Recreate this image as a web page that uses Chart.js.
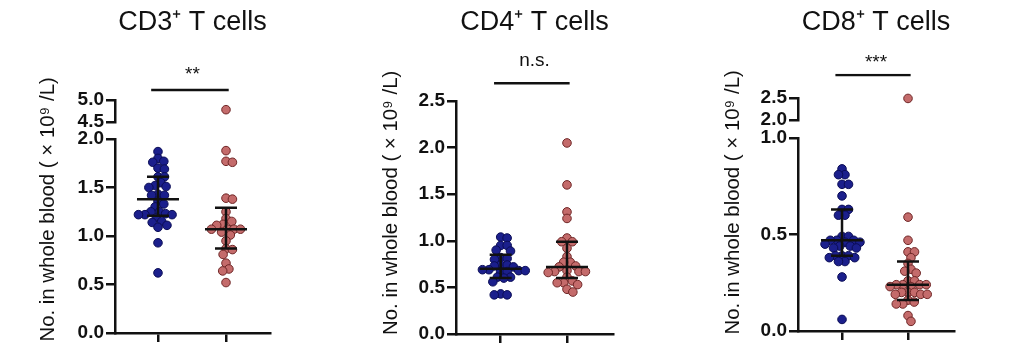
<!DOCTYPE html>
<html>
<head>
<meta charset="utf-8">
<script src="https://cdn.jsdelivr.net/npm/chart.js@4.4.1/dist/chart.umd.min.js"></script>
<style>
  body { margin: 0; background: #fff; width: 1023px; height: 352px; overflow: hidden; position: relative; }
  canvas { position: absolute; top: 0; }
</style>
</head>
<body>
<canvas id="cd3" width="330" height="352" style="left:0px"></canvas>
<canvas id="cd4" width="340" height="352" style="left:330px"></canvas>
<canvas id="cd8" width="343" height="352" style="left:680px"></canvas>
<script>
// shared text / ticks
const yTitle = 'No. in whole blood ( × 10⁹ /L)'
const groupTicks = [1, 2]
const tickStep = 0.5

// CD3
const cd3Title = 'CD3⁺ T cells'
const cd3Sig = '**'
const cd3LowRange = [0, 2.0]
const cd3HighRange = [4.5, 5.0]
const cd3GroupA = [1.87, 1.80, 1.77, 1.76, 1.70, 1.69, 1.61, 1.61, 1.55, 1.52, 1.51, 1.50, 1.43, 1.42, 1.42, 1.36, 1.33, 1.30, 1.25, 1.25, 1.23, 1.22, 1.22, 1.22, 1.19, 1.15, 1.14, 1.11, 1.09, 0.93, 0.62]
const cd3GroupB = [1.88, 1.77, 1.76, 1.39, 1.38, 1.25, 1.18, 1.15, 1.12, 1.11, 1.07, 1.07, 1.07, 1.07, 1.04, 1.01, 0.95, 0.87, 0.86, 0.81, 0.72, 0.66, 0.64, 0.52]
const cd3GroupBHigh = [4.78]
const cd3StatsA = [1.21, 1.38, 1.61] // q1, median, q3
const cd3StatsB = [0.87, 1.07, 1.29]

// CD4
const cd4Title = 'CD4⁺ T cells'
const cd4Sig = 'n.s.'
const cd4LowRange = [0, 2.5]
const cd4GroupA = [1.04, 1.03, 0.95, 0.95, 0.90, 0.89, 0.82, 0.81, 0.80, 0.74, 0.74, 0.73, 0.72, 0.69, 0.69, 0.68, 0.68, 0.67, 0.67, 0.61, 0.61, 0.60, 0.56, 0.43, 0.42, 0.42]
const cd4GroupB = [2.05, 1.60, 1.31, 1.24, 1.03, 0.99, 0.99, 0.92, 0.83, 0.77, 0.77, 0.73, 0.72, 0.68, 0.67, 0.67, 0.67, 0.66, 0.61, 0.57, 0.55, 0.55, 0.53, 0.48, 0.45]
const cd4StatsA = [0.60, 0.70, 0.85]
const cd4StatsB = [0.60, 0.72, 0.99]

// CD8
const cd8Title = 'CD8⁺ T cells'
const cd8Sig = '***'
const cd8LowRange = [0, 1.0]
const cd8HighRange = [2.0, 2.5]
const cd8GroupA = [0.84, 0.81, 0.81, 0.76, 0.76, 0.70, 0.63, 0.63, 0.60, 0.60, 0.49, 0.49, 0.47, 0.47, 0.47, 0.46, 0.46, 0.45, 0.44, 0.44, 0.43, 0.43, 0.39, 0.39, 0.39, 0.38, 0.38, 0.36, 0.36, 0.28, 0.06]
const cd8GroupB = [0.59, 0.47, 0.41, 0.41, 0.38, 0.35, 0.32, 0.31, 0.30, 0.26, 0.26, 0.24, 0.24, 0.24, 0.24, 0.23, 0.23, 0.20, 0.20, 0.20, 0.19, 0.19, 0.19, 0.16, 0.15, 0.14, 0.14, 0.08, 0.05]
const cd8GroupBHigh = [2.49]
const cd8StatsA = [0.39, 0.47, 0.63]
const cd8StatsB = [0.16, 0.24, 0.36]

const ink = '#111'
const font = 'Liberation Sans, Arial, sans-serif'
const blueFill = '#1b1f8c', blueEdge = '#0b0d55'
const redFill = '#c46b6b', redEdge = '#6f2727'

// beeswarm: each dot goes as close to the centre line as it can without hitting the others
function swarm(values, center, pxX, pxY) {
    const d = 6.5
    const placed = []
    return values.map((v) => {
        const y = v * pxY
        const near = placed.filter((p) => Math.abs(p.y - y) < d)
        const cands = [0]
        near.forEach((p) => {
            const w = Math.sqrt(d * d - (p.y - y) ** 2)
            cands.push(p.x + w, p.x - w)
        })
        cands.sort((a, b) => Math.abs(a) - Math.abs(b))
        const x = cands.find((c) => near.every((p) => Math.hypot(p.x - c, p.y - y) >= d - 0.001))
        placed.push({ x, y })
        return { x: center + x / pxX, y: v }
    })
}

function dots(values, center, L, fill, edge, axis) {
    return {
        data: swarm(values, center, L.pxX, L.pxY),
        yAxisID: axis,
        backgroundColor: fill,
        borderColor: edge,
        borderWidth: 1,
        pointRadius: 4.3,
        clip: false,
        order: 2
    }
}

// median with interquartile range
function whisker(stats, center, L) {
    const [q1, med, q3] = stats
    const m = 21 / L.pxX, c = 11 / L.pxX
    return {
        showLine: true,
        yAxisID: 'y',
        data: [
            { x: center - m, y: med }, { x: center + m, y: med }, { x: center, y: null },
            { x: center - c, y: q3 }, { x: center + c, y: q3 }, { x: center, y: null },
            { x: center - c, y: q1 }, { x: center + c, y: q1 }, { x: center, y: null },
            { x: center, y: q1 }, { x: center, y: q3 }
        ],
        borderColor: ink,
        borderWidth: 2.5,
        pointRadius: 0,
        spanGaps: false,
        order: 0
    }
}

function valueAxis(range, weight, L) {
    return {
        type: 'linear', position: 'left', stack: 'v', stackWeight: weight,
        min: range[0], max: range[1],
        ticks: { stepSize: tickStep, autoSkip: false, color: ink, padding: 2, font: { family: font, size: 19, weight: 'bold' }, callback: (v) => v.toFixed(1) },
        grid: { drawOnChartArea: false, color: ink, lineWidth: 2.5, tickLength: 9 },
        border: { color: ink, width: 2.5 },
        afterFit: (s) => { s.width = L.axisWidth }
    }
}

function blankAxis(weight, L) {
    return {
        type: 'linear', position: 'left', stack: 'v', stackWeight: weight,
        min: 0, max: 1,
        ticks: { display: false },
        grid: { display: false },
        border: { display: false },
        afterFit: (s) => { s.width = L.axisWidth }
    }
}

function makePanel(id, P, L) {
    const scales = {
        x: {
            type: 'linear', min: L.xMin, max: L.xMax,
            afterBuildTicks: (s) => { s.ticks = groupTicks.map((v) => ({ value: v })) },
            afterFit: (s) => { s.height = L.xHeight },
            ticks: { display: false },
            grid: { drawOnChartArea: false, color: ink, lineWidth: 2.5, tickLength: 9 },
            border: { color: ink, width: 2.5 }
        },
        y: valueAxis(P.low, L.wLow, L)
    }
    if (P.high) {
        scales.yGap = blankAxis(L.wGap, L)
        scales.yTop = valueAxis(P.high, L.wTop, L)
    }
    scales.yAnn = blankAxis(L.wAnn, L)
    scales.yLabel = {
        type: 'linear', position: 'left', weight: 10, min: 0, max: 1,
        ticks: { display: false }, grid: { display: false }, border: { display: false },
        afterFit: (s) => { s.width = L.labelWidth },
        title: { display: true, text: yTitle, color: ink, font: { family: font, size: 20.4 }, padding: { top: L.labelPad, bottom: 0 } }
    }

    const datasets = [
        dots(P.a, groupTicks[0], L, blueFill, blueEdge, 'y'),
        dots(P.b, groupTicks[1], L, redFill, redEdge, 'y'),
        whisker(P.statsA, groupTicks[0], L),
        whisker(P.statsB, groupTicks[1], L),
        { showLine: true, yAxisID: 'yAnn', data: [{ x: 0.9, y: L.barY }, { x: 2.04, y: L.barY }], borderColor: ink, borderWidth: 2.5, pointRadius: 0, order: 0 }
    ]
    if (P.bHigh) datasets.push(dots(P.bHigh, groupTicks[1], L, redFill, redEdge, 'yTop'))

    new Chart(document.getElementById(id), {
        type: 'scatter',
        data: { datasets },
        options: {
            responsive: false,
            animation: false,
            layout: { padding: { left: 0, right: L.padRight, top: 0, bottom: 0 } },
            scales,
            plugins: {
                legend: { display: false },
                tooltip: { enabled: false },
                title: { display: true, text: P.title, fullSize: false, color: ink, font: { family: font, size: 27, weight: 'normal' }, padding: { top: 6, bottom: 0 } },
                subtitle: { display: true, text: P.sig, fullSize: false, color: ink, font: { family: font, size: 19, weight: 'normal' }, padding: { top: L.sigPad, bottom: 0 } }
            }
        }
    })
}

makePanel('cd3',
    { title: cd3Title, sig: cd3Sig, low: cd3LowRange, high: cd3HighRange, a: cd3GroupA, b: cd3GroupB, bHigh: cd3GroupBHigh, statsA: cd3StatsA, statsB: cd3StatsB },
    { labelWidth: 60, labelPad: 35.8, axisWidth: 55, padRight: 60, xMin: 0.368, xMax: 2.647, xHeight: 19, sigPad: 24.6, wAnn: 14.2, wTop: 22, wGap: 17, wLow: 194, barY: 0.7, pxX: 68, pxY: 97 })

makePanel('cd4',
    { title: cd4Title, sig: cd4Sig, low: cd4LowRange, a: cd4GroupA, b: cd4GroupB, statsA: cd4StatsA, statsB: cd4StatsB },
    { labelWidth: 70, labelPad: 49.5, axisWidth: 56, padRight: 57, xMin: 0.326, xMax: 2.694, xHeight: 18, sigPad: 10.5, wAnn: 29.3, wLow: 233, barY: 0.61, pxX: 66.3, pxY: 93.2 })

makePanel('cd8',
    { title: cd8Title, sig: cd8Sig, low: cd8LowRange, high: cd8HighRange, a: cd8GroupA, b: cd8GroupB, bHigh: cd8GroupBHigh, statsA: cd8StatsA, statsB: cd8StatsB },
    { labelWidth: 62, labelPad: 41.1, axisWidth: 56, padRight: 69, xMin: 0.333, xMax: 2.697, xHeight: 21, sigPad: 12.6, wAnn: 24.2, wTop: 22, wGap: 18, wLow: 193, barY: 0.95, pxX: 66, pxY: 193 })
</script>
</body>
</html>
